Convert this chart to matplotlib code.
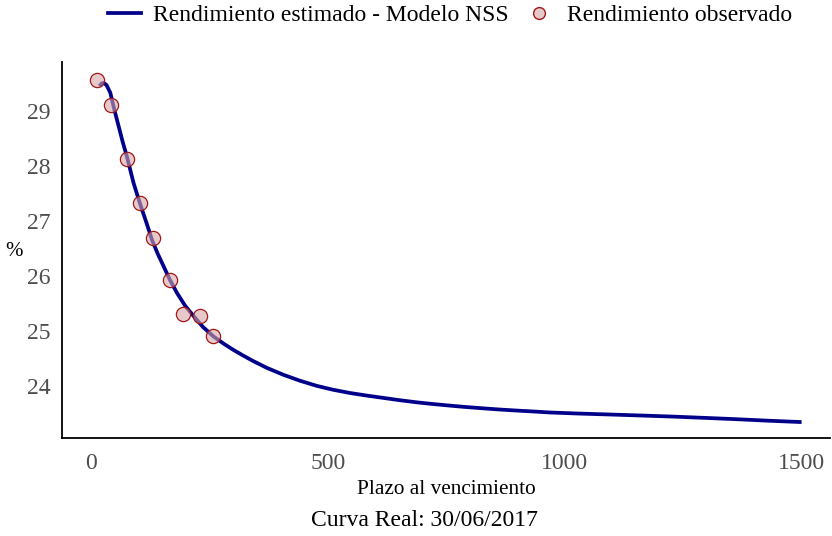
import matplotlib
matplotlib.use("Agg")
import matplotlib.pyplot as plt
from matplotlib.lines import Line2D

# Observed yields
obs_plazo = [12.7, 40.7, 76, 103, 131, 166, 194, 230, 257]
obs_rend = [29.58, 29.12, 28.14, 27.33, 26.70, 25.93, 25.30, 25.28, 24.90]

# Estimated NSS curve
curve_plazo = [17, 22, 26, 32, 40, 48, 57.6, 66, 75, 89, 98, 107, 118, 128, 140,
               152.5, 166, 181, 198, 216, 236, 258, 280, 300, 320, 340, 370, 406, 440,
               476, 510, 546, 580, 617, 650, 687, 720, 757, 790, 828, 860, 898, 930,
               968, 1030, 1088, 1160, 1228, 1300, 1369, 1430, 1500]
curve_rend = [29.46, 29.51, 29.52, 29.48, 29.34, 29.05, 28.73, 28.45, 28.18, 27.70,
              27.45, 27.21, 26.93, 26.66, 26.41, 26.18, 25.93, 25.69, 25.46, 25.27,
              25.07, 24.90, 24.765, 24.655, 24.555, 24.46, 24.33, 24.20, 24.095, 24.00,
              23.93, 23.87, 23.825, 23.78, 23.74, 23.70, 23.67, 23.64, 23.615, 23.59,
              23.57, 23.55, 23.535, 23.515, 23.495, 23.48, 23.46, 23.44, 23.415, 23.39,
              23.365, 23.34]

x_ticks = [0, 500, 1000, 1500]
y_ticks = [24, 25, 26, 27, 28, 29]

plt.rcParams['font.family'] = ['Liberation Serif', 'DejaVu Serif']

fig = plt.figure(figsize=(8.32, 5.36), dpi=100)
ax = fig.add_axes([62/832, 1-438/536, (830-62)/832, (438-62)/536])

ax.plot(curve_plazo, curve_rend, color='#00008B', lw=2.7, solid_capstyle='butt',
        solid_joinstyle='round', zorder=2)
ax.scatter(obs_plazo, obs_rend, s=105, facecolor=(0.85, 0.65, 0.65, 0.6),
           edgecolor='#a01818', linewidths=0.9, zorder=3)

ax.set_xlim(-62, 1560)
ax.set_ylim(23.05, 29.9)
ax.set_xticks(x_ticks)
ax.set_yticks(y_ticks)
ax.tick_params(axis='x', length=0, labelsize=17, labelcolor='#4d4d4d', pad=11)
ax.tick_params(axis='y', length=0, labelsize=17, labelcolor='#4d4d4d', pad=8)
for s in ['top', 'right']:
    ax.spines[s].set_visible(False)
for s in ['left', 'bottom']:
    ax.spines[s].set_linewidth(1.3)

ax.set_xlabel('Plazo al vencimiento', fontsize=15.3, labelpad=4)
ax.set_ylabel('%', fontsize=15, rotation=0, va='center')
ax.yaxis.set_label_coords(-0.063, (438-252)/376)

fig.text(424/832, 1-521/536, 'Curva Real: 30/06/2017', fontsize=17, ha='center', va='center')

handles = [Line2D([0], [0], color='#00008B', lw=2.7),
           Line2D([0], [0], marker='o', ls='none', markersize=8.5,
                  markerfacecolor=(0.85, 0.65, 0.65, 0.6), markeredgecolor='#a01818')]
fig.legend(handles, ['Rendimiento estimado - Modelo NSS', 'Rendimiento observado'],
           loc='center', bbox_to_anchor=(450/832, 1-15/536), ncol=2, frameon=False,
           fontsize=17, handlelength=1.4, columnspacing=0.6, handletextpad=0.5)

fig.savefig('out.png', dpi=100)
